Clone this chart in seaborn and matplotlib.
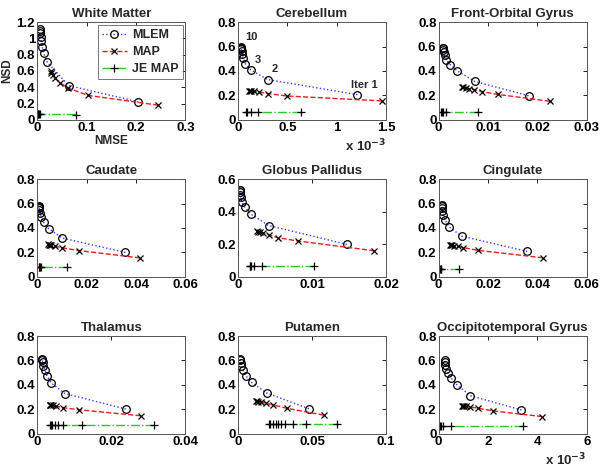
# NSD vs NMSE trade-off curves per brain region (MLEM / MAP / JE MAP)
import matplotlib
matplotlib.use('Agg')
import matplotlib.pyplot as plt
from matplotlib.ticker import FuncFormatter
import seaborn as sns

methods = ['MLEM', 'MAP', 'JE MAP']
regions = ['White Matter', 'Cerebellum', 'Front-Orbital Gyrus',
           'Caudate', 'Globus Pallidus', 'Cingulate',
           'Thalamus', 'Putamen', 'Occipitotemporal Gyrus']

# White Matter
wm_mlem_x = [0.205, 0.064, 0.020, 0.013, 0.010, 0.008, 0.007, 0.006, 0.005, 0.005]
wm_mlem_y = [0.22, 0.42, 0.71, 0.82, 0.90, 0.97, 1.02, 1.06, 1.09, 1.12]
wm_map_x = [0.245, 0.103, 0.063, 0.047, 0.037, 0.031, 0.028, 0.027]
wm_map_y = [0.18, 0.30, 0.39, 0.45, 0.51, 0.55, 0.58, 0.60]
wm_je_x = [0.078, 0.005, 0.003, 0.0025, 0.002]
wm_je_y = [0.065, 0.066, 0.066, 0.066, 0.066]

# Cerebellum
cb_mlem_x = [1.21e-3, 0.30e-3, 0.128e-3, 0.076e-3, 0.052e-3, 0.042e-3, 0.038e-3, 0.036e-3, 0.035e-3, 0.035e-3]
cb_mlem_y = [0.206, 0.33, 0.41, 0.46, 0.51, 0.54, 0.56, 0.58, 0.59, 0.60]
cb_map_x = [1.455e-3, 0.50e-3, 0.30e-3, 0.21e-3, 0.16e-3, 0.135e-3, 0.12e-3, 0.11e-3]
cb_map_y = [0.155, 0.195, 0.215, 0.228, 0.233, 0.236, 0.237, 0.238]
cb_je_x = [0.64e-3, 0.20e-3, 0.13e-3, 0.09e-3, 0.08e-3]
cb_je_y = [0.067, 0.067, 0.067, 0.067, 0.067]

# Front-Orbital Gyrus
fo_mlem_x = [0.0182, 0.0073, 0.0038, 0.0024, 0.0016, 0.0012, 0.0010, 0.0009, 0.0009, 0.0008]
fo_mlem_y = [0.197, 0.315, 0.40, 0.45, 0.49, 0.527, 0.555, 0.575, 0.585, 0.59]
fo_map_x = [0.0225, 0.012, 0.0088, 0.0071, 0.0062, 0.0055, 0.005, 0.0048]
fo_map_y = [0.152, 0.208, 0.231, 0.248, 0.254, 0.262, 0.265, 0.267]
fo_je_x = [0.008, 0.0016, 0.0008, 0.0006, 0.0005]
fo_je_y = [0.062, 0.062, 0.062, 0.062, 0.062]

# Caudate
ca_mlem_x = [0.0357, 0.0102, 0.0046, 0.0026, 0.0016, 0.0011, 0.0009, 0.0008, 0.0008, 0.0007]
ca_mlem_y = [0.20, 0.317, 0.394, 0.447, 0.49, 0.524, 0.546, 0.563, 0.575, 0.58]
ca_map_x = [0.0416, 0.0169, 0.0102, 0.0071, 0.0057, 0.005, 0.0046, 0.0044]
ca_map_y = [0.155, 0.215, 0.237, 0.251, 0.259, 0.262, 0.264, 0.265]
ca_je_x = [0.0119, 0.0016, 0.001, 0.0008, 0.0007]
ca_je_y = [0.083, 0.083, 0.083, 0.083, 0.083]

# Globus Pallidus
gp_mlem_x = [0.0147, 0.00415, 0.00174, 0.0009, 0.0005, 0.00037, 0.0003, 0.00026, 0.00024, 0.00023]
gp_mlem_y = [0.199, 0.315, 0.385, 0.43, 0.46, 0.49, 0.505, 0.52, 0.53, 0.535]
gp_map_x = [0.0184, 0.0081, 0.0054, 0.0042, 0.0034, 0.003, 0.0027, 0.0026]
gp_map_y = [0.16, 0.22, 0.24, 0.257, 0.268, 0.274, 0.278, 0.28]
gp_je_x = [0.0103, 0.0032, 0.0022, 0.0018, 0.0017, 0.0016]
gp_je_y = [0.066, 0.066, 0.066, 0.066, 0.066, 0.066]

# Cingulate
ci_mlem_x = [0.0359, 0.0093, 0.0042, 0.0027, 0.0019, 0.0015, 0.0013, 0.0012, 0.0012]
ci_mlem_y = [0.208, 0.333, 0.41, 0.467, 0.508, 0.54, 0.565, 0.58, 0.59]
ci_map_x = [0.0422, 0.0158, 0.0100, 0.0077, 0.0063, 0.0055, 0.0050, 0.0048]
ci_map_y = [0.156, 0.217, 0.239, 0.25, 0.256, 0.259, 0.261, 0.262]
ci_je_x = [0.0082, 0.0011, 0.0008, 0.0007]
ci_je_y = [0.064, 0.064, 0.064, 0.064]

# Thalamus
th_mlem_x = [0.0239, 0.0075, 0.0038, 0.0026, 0.002, 0.0017, 0.0015, 0.0014, 0.0014]
th_mlem_y = [0.203, 0.329, 0.416, 0.477, 0.526, 0.559, 0.586, 0.605, 0.615]
th_map_x = [0.0279, 0.0114, 0.007, 0.0052, 0.0043, 0.0038, 0.0035, 0.0034]
th_map_y = [0.148, 0.196, 0.214, 0.225, 0.232, 0.236, 0.238, 0.239]
th_je_x = [0.0314, 0.012, 0.007, 0.0056, 0.0047, 0.004, 0.0036, 0.0034]
th_je_y = [0.071, 0.071, 0.071, 0.071, 0.071, 0.071, 0.071, 0.071]

# Putamen
pu_mlem_x = [0.0479, 0.0194, 0.0093, 0.0052, 0.0034, 0.0024, 0.0019, 0.0017, 0.0016]
pu_mlem_y = [0.205, 0.334, 0.42, 0.477, 0.52, 0.553, 0.58, 0.6, 0.61]
pu_map_x = [0.0578, 0.0334, 0.0237, 0.0187, 0.0153, 0.0138, 0.0128, 0.0124]
pu_map_y = [0.153, 0.208, 0.236, 0.252, 0.26, 0.263, 0.265, 0.266]
pu_je_x = [0.0666, 0.046, 0.037, 0.032, 0.029, 0.027, 0.0255, 0.0237, 0.022, 0.0208]
pu_je_y = [0.082, 0.082, 0.082, 0.082, 0.082, 0.082, 0.082, 0.082, 0.082, 0.082]

# Occipitotemporal Gyrus
oc_mlem_x = [3.35e-3, 1.29e-3, 0.75e-3, 0.52e-3, 0.38e-3, 0.31e-3, 0.27e-3, 0.26e-3, 0.25e-3]
oc_mlem_y = [0.195, 0.312, 0.398, 0.453, 0.499, 0.534, 0.565, 0.585, 0.6]
oc_map_x = [4.19e-3, 2.22e-3, 1.6e-3, 1.27e-3, 1.13e-3, 1.03e-3, 0.97e-3, 0.93e-3]
oc_map_y = [0.141, 0.187, 0.209, 0.22, 0.225, 0.227, 0.228, 0.229]
oc_je_x = [3.41e-3, 0.52e-3, 0.18e-3, 0.09e-3, 0.05e-3]
oc_je_y = [0.06, 0.06, 0.06, 0.06, 0.06]

series = [
    [(wm_mlem_x, wm_mlem_y), (wm_map_x, wm_map_y), (wm_je_x, wm_je_y)],
    [(cb_mlem_x, cb_mlem_y), (cb_map_x, cb_map_y), (cb_je_x, cb_je_y)],
    [(fo_mlem_x, fo_mlem_y), (fo_map_x, fo_map_y), (fo_je_x, fo_je_y)],
    [(ca_mlem_x, ca_mlem_y), (ca_map_x, ca_map_y), (ca_je_x, ca_je_y)],
    [(gp_mlem_x, gp_mlem_y), (gp_map_x, gp_map_y), (gp_je_x, gp_je_y)],
    [(ci_mlem_x, ci_mlem_y), (ci_map_x, ci_map_y), (ci_je_x, ci_je_y)],
    [(th_mlem_x, th_mlem_y), (th_map_x, th_map_y), (th_je_x, th_je_y)],
    [(pu_mlem_x, pu_mlem_y), (pu_map_x, pu_map_y), (pu_je_x, pu_je_y)],
    [(oc_mlem_x, oc_mlem_y), (oc_map_x, oc_map_y), (oc_je_x, oc_je_y)],
]

x_max = [0.3, 1.5e-3, 0.03, 0.06, 0.02, 0.06, 0.04, 0.1, 6e-3]
x_step = [0.1, 0.5e-3, 0.01, 0.02, 0.01, 0.02, 0.02, 0.05, 2e-3]
y_max = [1.2, 0.8, 0.8, 0.8, 0.6, 0.8, 0.8, 0.8, 0.8]
x_scale = [1, 1e-3, 1, 1, 1, 1, 1, 1, 1e-3]

# line style per method
styles = {
    'MLEM': dict(color='#3a3aff', linestyle=':', marker='o', markersize=5.5),
    'MAP': dict(color='#ee1c1c', linestyle='--', marker='x', markersize=4),
    'JE MAP': dict(color='#22cc22', linestyle='-.', marker='+', markersize=6),
}

sns.set_style('white')
plt.rcParams['font.family'] = ['Liberation Sans', 'DejaVu Sans']
plt.rcParams['font.weight'] = 'bold'

fig, axes = plt.subplots(3, 3, figsize=(6, 4.7), dpi=100)
fig.subplots_adjust(left=0.062, right=0.978, bottom=0.077, top=0.953,
                    wspace=0.354, hspace=0.606)

for i, ax in enumerate(axes.flat):
    for m, (xs, ys) in zip(methods, series[i]):
        sns.lineplot(x=xs, y=ys, ax=ax, sort=False, estimator=None,
                     linewidth=1, markerfacecolor='none', markeredgecolor='k',
                     markeredgewidth=0.9, label=m, **styles[m])

    ax.set_xlim(0, x_max[i])
    ax.set_ylim(0, y_max[i])
    n_x = int(round(x_max[i] / x_step[i]))
    ax.set_xticks([k * x_step[i] for k in range(n_x + 1)])
    ax.set_yticks([k * 0.2 for k in range(int(round(y_max[i] / 0.2)) + 1)])
    sc = x_scale[i]
    ax.xaxis.set_major_formatter(FuncFormatter(lambda v, p, sc=sc: '%g' % round(v / sc, 6)))
    ax.yaxis.set_major_formatter(FuncFormatter(lambda v, p: '%g' % round(v, 6)))
    ax.tick_params(direction='in', length=3, width=0.6, top=True, right=True,
                   labelsize=9.5, pad=1.5, colors='k')
    for lab in ax.get_xticklabels() + ax.get_yticklabels():
        lab.set_fontweight('bold')
    for sp in ax.spines.values():
        sp.set_color('#555555')
        sp.set_linewidth(0.7)
    ax.set_title(regions[i], fontsize=9.5, fontweight='bold', pad=4)
    if sc != 1:
        ax.text(1.0, -0.27, r'x 10$^{-3}$', transform=ax.transAxes, ha='right',
                va='center', fontsize=9.5, fontweight='bold')
    if ax.get_legend() is not None:
        ax.get_legend().remove()

# legend and axis labels on the first panel only
ax0 = axes[0, 0]
leg = ax0.legend(handles=ax0.lines[:3], labels=methods, loc='upper right',
                 fontsize=9, frameon=True, fancybox=False, handlelength=2.0,
                 borderpad=0.35, labelspacing=0.4, handletextpad=0.4,
                 borderaxespad=0.2)
leg.get_frame().set_edgecolor('#555555')
leg.get_frame().set_linewidth(0.7)
for t in leg.get_texts():
    t.set_fontweight('bold')
ax0.set_xlabel('NMSE', fontsize=8.5, fontweight='bold', labelpad=1)
ax0.set_ylabel('NSD', fontsize=8.5, fontweight='bold', labelpad=2)

# iteration labels on the Cerebellum MLEM curve
ax1 = axes[0, 1]
for idx, txt, off in [(0, 'Iter 1', (-6, 5)), (1, '2', (4, 6)),
                      (2, '3', (4, 5)), (9, '10', (4, 5))]:
    ax1.annotate(txt, xy=(cb_mlem_x[idx], cb_mlem_y[idx]), xytext=off,
                 textcoords='offset pixels', ha='left', va='bottom',
                 fontsize=8, fontweight='bold')

fig.savefig('out.png', dpi=100)
